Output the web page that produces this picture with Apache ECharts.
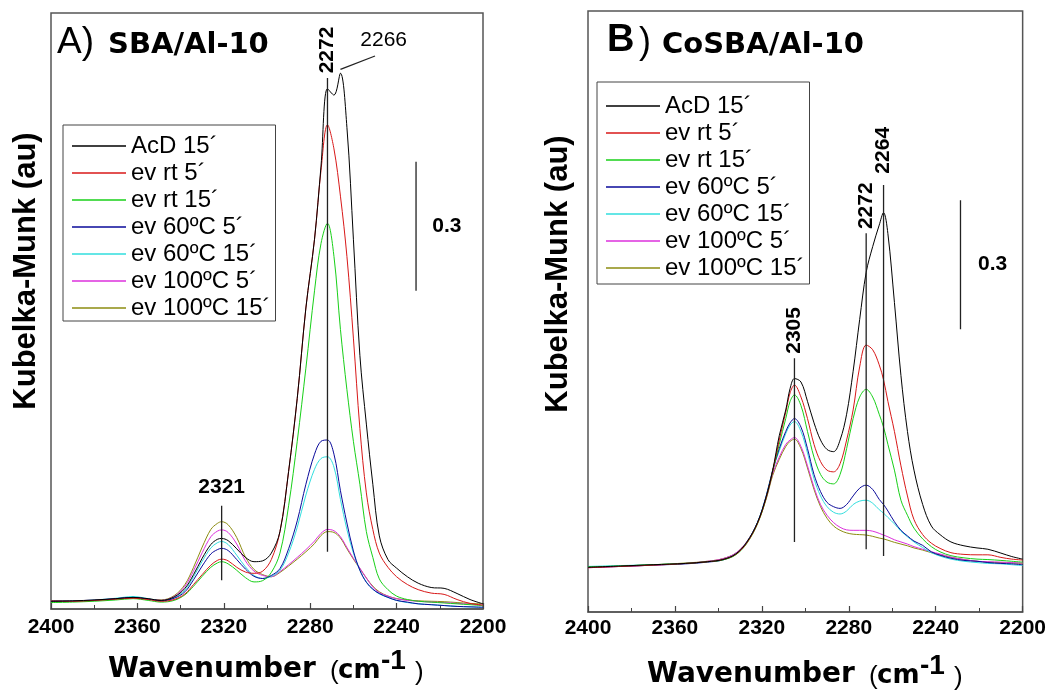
<!DOCTYPE html>
<html>
<head>
<meta charset="utf-8">
<script src="https://cdn.jsdelivr.net/npm/echarts@6/dist/echarts.min.js"></script>
<style>
  html, body { margin: 0; padding: 0; background: #ffffff; }
  #chart { width: 1049px; height: 690px; }
</style>
</head>
<body>
<div id="chart"></div>
<script>
// ---- Wavenumber sampling (cm-1) ----
const waveA = [2400, 2390, 2380, 2370, 2362, 2355, 2349, 2343, 2338, 2334, 2330, 2326, 2323, 2321, 2318, 2314, 2310, 2306, 2302, 2298, 2294, 2290, 2286, 2282, 2278, 2275, 2272, 2269, 2266, 2263, 2260, 2257, 2254, 2251, 2248, 2244, 2240, 2235, 2230, 2224, 2218, 2212, 2206, 2200];
const waveB = [2400, 2385, 2370, 2355, 2345, 2338, 2332, 2327, 2322, 2318, 2315, 2312, 2309, 2307, 2305, 2302, 2299, 2296, 2293, 2290, 2287, 2284, 2281, 2278, 2275, 2272, 2269, 2266, 2264, 2262, 2259, 2256, 2253, 2250, 2246, 2242, 2238, 2233, 2227, 2221, 2216, 2210, 2205, 2200];

// ---- Treatment names (legend) ----
const treatments = ['AcD 15\u00B4', 'ev rt 5\u00B4', 'ev rt 15\u00B4', 'ev 60\u00BAC 5\u00B4', 'ev 60\u00BAC 15\u00B4', 'ev 100\u00BAC 5\u00B4', 'ev 100\u00BAC 15\u00B4'];

// ---- Panel A: SBA/Al-10, Kubelka-Munk values ----
const sbaAcd15   = [0.018, 0.019, 0.021, 0.024, 0.027, 0.024, 0.020, 0.028, 0.048, 0.080, 0.118, 0.150, 0.162, 0.164, 0.159, 0.140, 0.120, 0.110, 0.112, 0.130, 0.180, 0.320, 0.490, 0.700, 0.860, 1.030, 1.210, 1.195, 1.246, 1.120, 0.860, 0.590, 0.430, 0.290, 0.170, 0.115, 0.095, 0.075, 0.060, 0.050, 0.048, 0.036, 0.022, 0.012];
const sbaRt5     = [0.019, 0.018, 0.020, 0.023, 0.025, 0.022, 0.018, 0.022, 0.035, 0.057, 0.080, 0.102, 0.113, 0.116, 0.112, 0.097, 0.086, 0.083, 0.088, 0.115, 0.180, 0.320, 0.490, 0.700, 0.860, 1.020, 1.126, 1.070, 0.960, 0.820, 0.630, 0.420, 0.270, 0.185, 0.130, 0.097, 0.075, 0.057, 0.045, 0.037, 0.034, 0.022, 0.013, 0.009];
const sbaRt15    = [0.015, 0.016, 0.018, 0.021, 0.024, 0.020, 0.016, 0.020, 0.033, 0.053, 0.076, 0.097, 0.107, 0.110, 0.105, 0.090, 0.073, 0.063, 0.066, 0.085, 0.130, 0.240, 0.390, 0.560, 0.740, 0.850, 0.897, 0.820, 0.650, 0.510, 0.390, 0.290, 0.180, 0.120, 0.070, 0.045, 0.030, 0.022, 0.018, 0.016, 0.014, 0.012, 0.010, 0.008];
const sba60_5    = [0.018, 0.018, 0.020, 0.024, 0.027, 0.023, 0.019, 0.025, 0.040, 0.068, 0.100, 0.128, 0.138, 0.141, 0.136, 0.115, 0.093, 0.076, 0.071, 0.078, 0.094, 0.140, 0.205, 0.290, 0.360, 0.390, 0.393, 0.360, 0.275, 0.200, 0.135, 0.090, 0.062, 0.046, 0.036, 0.027, 0.020, 0.016, 0.012, 0.010, 0.008, 0.006, 0.005, 0.004];
const sba60_15   = [0.019, 0.019, 0.021, 0.025, 0.029, 0.024, 0.019, 0.026, 0.044, 0.075, 0.111, 0.142, 0.154, 0.157, 0.150, 0.125, 0.098, 0.078, 0.071, 0.076, 0.090, 0.130, 0.190, 0.265, 0.325, 0.350, 0.354, 0.330, 0.255, 0.185, 0.130, 0.090, 0.063, 0.046, 0.035, 0.027, 0.020, 0.015, 0.012, 0.010, 0.008, 0.006, 0.005, 0.004];
const sba100_5   = [0.019, 0.019, 0.021, 0.024, 0.027, 0.023, 0.020, 0.029, 0.053, 0.089, 0.131, 0.168, 0.181, 0.184, 0.178, 0.151, 0.112, 0.088, 0.078, 0.075, 0.087, 0.103, 0.120, 0.138, 0.158, 0.176, 0.185, 0.182, 0.168, 0.143, 0.118, 0.095, 0.072, 0.051, 0.038, 0.030, 0.024, 0.020, 0.018, 0.016, 0.015, 0.013, 0.011, 0.009];
const sba100_15  = [0.017, 0.018, 0.020, 0.023, 0.026, 0.023, 0.021, 0.031, 0.057, 0.097, 0.144, 0.185, 0.199, 0.203, 0.196, 0.166, 0.121, 0.092, 0.080, 0.075, 0.085, 0.100, 0.116, 0.133, 0.152, 0.171, 0.180, 0.178, 0.165, 0.140, 0.116, 0.094, 0.072, 0.053, 0.040, 0.030, 0.024, 0.021, 0.019, 0.018, 0.017, 0.015, 0.013, 0.012];

// ---- Panel B: CoSBA/Al-10, Kubelka-Munk values ----
const cosAcd15   = [0.104, 0.107, 0.110, 0.113, 0.117, 0.122, 0.135, 0.162, 0.208, 0.268, 0.330, 0.410, 0.470, 0.520, 0.543, 0.535, 0.490, 0.440, 0.400, 0.378, 0.373, 0.400, 0.460, 0.560, 0.680, 0.790, 0.850, 0.900, 0.929, 0.880, 0.720, 0.550, 0.420, 0.330, 0.250, 0.200, 0.180, 0.163, 0.154, 0.149, 0.146, 0.137, 0.129, 0.123];
const cosRt5     = [0.103, 0.106, 0.109, 0.113, 0.117, 0.122, 0.134, 0.160, 0.206, 0.266, 0.328, 0.400, 0.465, 0.510, 0.528, 0.500, 0.450, 0.390, 0.350, 0.330, 0.326, 0.345, 0.400, 0.470, 0.570, 0.621, 0.610, 0.575, 0.540, 0.490, 0.420, 0.340, 0.270, 0.215, 0.180, 0.160, 0.148, 0.138, 0.134, 0.133, 0.133, 0.127, 0.123, 0.121];
const cosRt15    = [0.105, 0.107, 0.110, 0.113, 0.117, 0.121, 0.133, 0.159, 0.205, 0.265, 0.327, 0.390, 0.450, 0.490, 0.505, 0.480, 0.420, 0.360, 0.320, 0.302, 0.298, 0.320, 0.380, 0.450, 0.500, 0.518, 0.500, 0.460, 0.430, 0.390, 0.330, 0.260, 0.225, 0.195, 0.170, 0.152, 0.140, 0.131, 0.126, 0.123, 0.122, 0.120, 0.118, 0.116];
const cos60_5    = [0.104, 0.106, 0.109, 0.112, 0.116, 0.121, 0.134, 0.161, 0.208, 0.270, 0.330, 0.380, 0.420, 0.440, 0.450, 0.430, 0.380, 0.320, 0.280, 0.255, 0.245, 0.241, 0.250, 0.270, 0.288, 0.295, 0.285, 0.262, 0.250, 0.235, 0.210, 0.190, 0.177, 0.165, 0.155, 0.140, 0.132, 0.125, 0.120, 0.118, 0.115, 0.113, 0.112, 0.110];
const cos60_15   = [0.106, 0.108, 0.110, 0.113, 0.117, 0.122, 0.135, 0.162, 0.209, 0.270, 0.330, 0.375, 0.415, 0.435, 0.443, 0.420, 0.370, 0.310, 0.270, 0.245, 0.232, 0.228, 0.235, 0.250, 0.258, 0.260, 0.253, 0.238, 0.230, 0.220, 0.205, 0.188, 0.175, 0.163, 0.150, 0.138, 0.130, 0.123, 0.118, 0.115, 0.113, 0.112, 0.110, 0.108];
const cos100_5   = [0.103, 0.106, 0.109, 0.113, 0.118, 0.124, 0.137, 0.163, 0.208, 0.265, 0.322, 0.360, 0.390, 0.400, 0.406, 0.385, 0.340, 0.290, 0.250, 0.225, 0.208, 0.197, 0.191, 0.190, 0.190, 0.190, 0.188, 0.183, 0.179, 0.175, 0.168, 0.163, 0.158, 0.152, 0.146, 0.140, 0.135, 0.128, 0.122, 0.118, 0.117, 0.116, 0.115, 0.114];
const cos100_15  = [0.104, 0.107, 0.110, 0.114, 0.118, 0.124, 0.137, 0.163, 0.207, 0.263, 0.318, 0.355, 0.385, 0.397, 0.402, 0.380, 0.335, 0.285, 0.245, 0.218, 0.200, 0.190, 0.184, 0.181, 0.180, 0.179, 0.176, 0.172, 0.170, 0.167, 0.162, 0.158, 0.154, 0.149, 0.144, 0.138, 0.133, 0.127, 0.122, 0.118, 0.116, 0.115, 0.114, 0.113];

// ---- Band positions marked on each panel (cm-1) ----
const bandsA = [2321, 2272, 2266];
const bandsB = [2305, 2272, 2264];
// Intensity scale bar length (Kubelka-Munk units)
const scaleBarSpan = 0.3;

const colors = ['#000000', '#d81818', '#18d018', '#0a0a9a', '#30dede', '#dc30dc', '#8c8c10'];
const panelA = [sbaAcd15, sbaRt5, sbaRt15, sba60_5, sba60_15, sba100_5, sba100_15];
const panelB = [cosAcd15, cosRt5, cosRt15, cos60_5, cos60_15, cos100_5, cos100_15];

const zip = (xs, ys) => xs.map((x, i) => [x, ys[i]]);

function spectra(wave, sets, idx) {
  return sets.map((ys, k) => ({
    name: treatments[k],
    type: 'line',
    xAxisIndex: idx, yAxisIndex: idx,
    data: zip(wave, ys),
    smooth: 0.35,
    symbol: 'none',
    silent: true,
    animation: false,
    color: colors[k],
    lineStyle: { color: colors[k], width: 1 },
    z: 3 + (sets.length - k) * 0.01
  }));
}

// Thin vertical/oblique guide segment
function guide(idx, p0, p1) {
  return {
    type: 'line', xAxisIndex: idx, yAxisIndex: idx,
    data: [p0, p1], symbol: 'none', silent: true, animation: false,
    lineStyle: { color: '#222', width: 1.3 }, z: 4
  };
}

// Text annotations placed in data space
function notes(idx, items) {
  return {
    type: 'scatter', xAxisIndex: idx, yAxisIndex: idx,
    symbolSize: 1, itemStyle: { color: 'rgba(0,0,0,0)' }, silent: true, animation: false, z: 5,
    data: items.map(it => ({
      value: [it.x, it.y], name: it.text,
      label: {
        show: true, position: 'inside', formatter: '{b}',
        rotate: it.rotate || 0, opacity: 1,
        fontFamily: 'Liberation Sans', fontWeight: it.weight || 'bold', fontSize: it.size || 21,
        color: '#000', textBorderWidth: 0, textBorderColor: 'transparent',
        align: 'center', verticalAlign: 'middle'
      }
    }))
  };
}

const [a1, a2, a3] = bandsA;
const [b1, b2, b3] = bandsB;

const series = [
  ...spectra(waveA, panelA, 0),
  ...spectra(waveB, panelB, 1),
  // panel A guides
  guide(0, [a2, 0.133], [a2, 1.235]),
  guide(0, [a1, 0.067], [a1, 0.240]),
  guide(0, [a3, 1.255], [2250, 1.286]),
  guide(0, [2231, 0.74], [2231, 0.74 + scaleBarSpan]),
  // panel B guides
  guide(1, [b1, 0.163], [b1, 0.590]),
  guide(1, [b2, 0.146], [b2, 0.881]),
  guide(1, [b3, 0.130], [b3, 0.993]),
  guide(1, [2228.6, 0.658], [2228.6, 0.658 + scaleBarSpan]),
  notes(0, [
    { x: a2, y: 1.30, text: String(a2), rotate: 90 },
    { x: a1, y: 0.284, text: String(a1) },
    { x: 2246, y: 1.323, text: String(a3), weight: 'normal' },
    { x: 2216.7, y: 0.891, text: String(scaleBarSpan) }
  ]),
  notes(1, [
    { x: b1, y: 0.655, text: String(b1), rotate: 90 },
    { x: b2, y: 0.945, text: String(b2), rotate: 90 },
    { x: b3, y: 1.074, text: String(b3), rotate: 90 },
    { x: 2213.8, y: 0.809, text: String(scaleBarSpan) }
  ])
];

function xAxisFor(idx, margin) {
  return {
    type: 'value', gridIndex: idx, min: 2200, max: 2400, interval: 40, inverse: true,
    axisLine: { show: true, lineStyle: { color: '#555', width: 1.5 } },
    axisTick: { show: true, inside: true, length: 6, lineStyle: { color: '#444', width: 1.2 } },
    minorTick: { show: true, splitNumber: 2, length: 4, lineStyle: { color: '#444', width: 1 } },
    splitLine: { show: false }, minorSplitLine: { show: false },
    axisLabel: {
      margin, showMinLabel: true, showMaxLabel: true,
      formatter: v => String(v),
      fontFamily: 'Liberation Sans', fontWeight: 'bold', fontSize: 21, color: '#000'
    }
  };
}

function legendFor(left, top, padding) {
  return {
    data: treatments, orient: 'vertical', left, top, padding,
    icon: 'rect', itemWidth: 54, itemHeight: 1.4, itemGap: 3,
    borderColor: '#444', borderWidth: 1, backgroundColor: '#fff',
    selectedMode: false,
    textStyle: { fontFamily: 'Liberation Sans', fontSize: 24, lineHeight: 24, color: '#000' }
  };
}

// Axis and panel captions
function caption(x, y, text, font, extra) {
  return Object.assign({
    type: 'text', x, y, silent: true,
    style: { text, font, fill: '#000', align: 'left', verticalAlign: 'middle',
             textAlign: 'left', textVerticalAlign: 'middle' }
  }, extra || {});
}

function wavenumberTitle(x0, y0) {
  return [
    caption(x0, y0, 'Wavenumber', 'bold 28px "DejaVu Sans"'),
    caption(x0 + 222, y0 + 2, '(', '26px "Liberation Sans"'),
    caption(x0 + 230, y0 + 1, 'cm', 'bold 26px "DejaVu Sans"'),
    caption(x0 + 273, y0 - 9, '-1', 'bold 28px "Liberation Sans"'),
    caption(x0 + 307, y0 + 3, ')', '26px "Liberation Sans"')
  ];
}

const kmFont = 'bold 31px "Liberation Sans"';
const graphic = [
  caption(57, 43, 'A)', '37px "Liberation Sans"'),
  caption(108, 45, 'SBA/Al-10', 'bold 29px "DejaVu Sans"'),
  caption(607, 41, 'B', 'bold 38px "Liberation Sans"'),
  caption(639, 43, ')', '36px "Liberation Sans"'),
  caption(662, 45, 'CoSBA/Al-10', 'bold 29px "DejaVu Sans"'),
  ...wavenumberTitle(108, 670),
  ...wavenumberTitle(647, 675),
  {
    type: 'text', x: 26, y: 271, rotation: Math.PI / 2, silent: true,
    style: { text: 'Kubelka-Munk (au)', font: kmFont, fill: '#000', align: 'center', verticalAlign: 'middle',
             textAlign: 'center', textVerticalAlign: 'middle' }
  },
  {
    type: 'text', x: 558, y: 274, rotation: Math.PI / 2, silent: true,
    style: { text: 'Kubelka-Munk (au)', font: kmFont, fill: '#000', align: 'center', verticalAlign: 'middle',
             textAlign: 'center', textVerticalAlign: 'middle' }
  }
];

const option = {
  backgroundColor: '#ffffff',
  animation: false,
  grid: [
    { left: 51, top: 13, width: 432, height: 596, show: true, borderColor: '#555', borderWidth: 1.5, containLabel: false },
    { left: 588, top: 11, width: 436, height: 601, show: true, borderColor: '#555', borderWidth: 1.5, containLabel: false }
  ],
  xAxis: [xAxisFor(0, 8), xAxisFor(1, 6)],
  yAxis: [
    { type: 'value', gridIndex: 0, min: 0, max: 1.386, show: false },
    { type: 'value', gridIndex: 1, min: 0, max: 1.398, show: false }
  ],
  legend: [
    legendFor(63, 125, [9, 5, 1, 9]),
    legendFor(597, 82, [12, 5, 4, 9])
  ],
  graphic,
  series
};

const chart = echarts.init(document.getElementById('chart'), null, { renderer: 'canvas' });
chart.setOption(option);
</script>
</body>
</html>
